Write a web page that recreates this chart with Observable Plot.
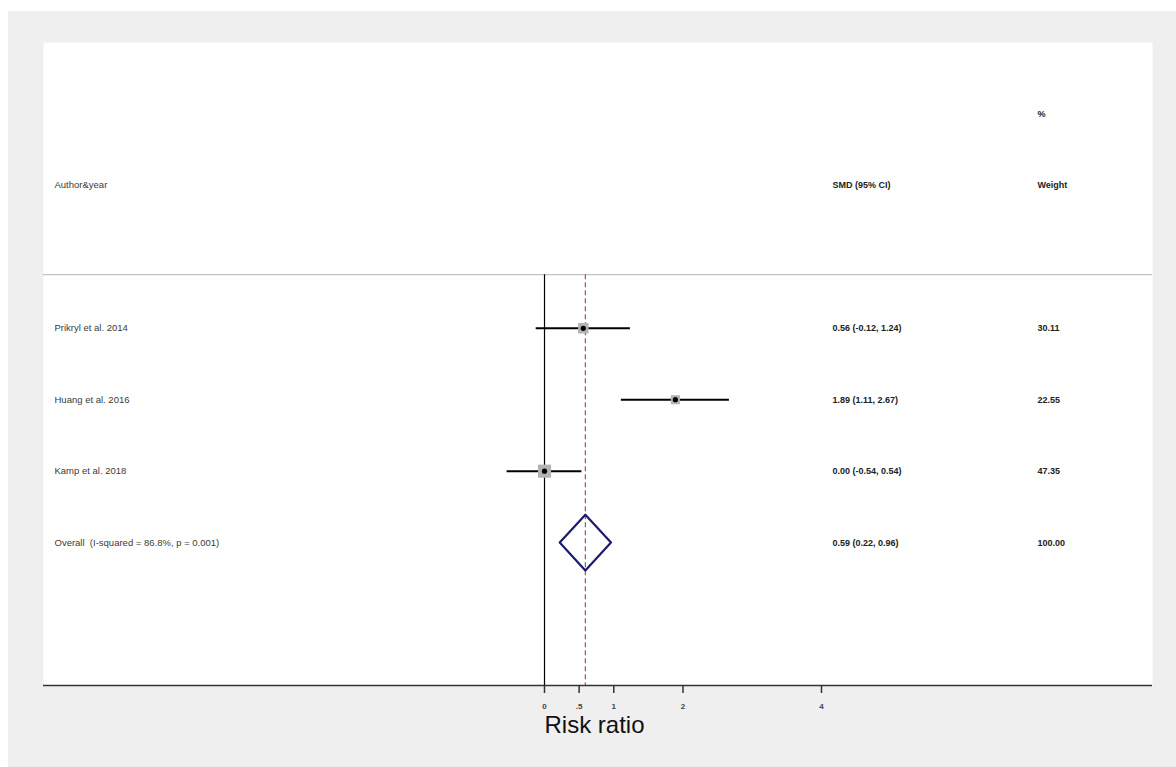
<!DOCTYPE html>
<html><head><meta charset="utf-8">
<script src="https://cdn.jsdelivr.net/npm/d3@7"></script>
<script src="https://cdn.jsdelivr.net/npm/@observablehq/plot@0.6"></script>
<style>
body{margin:0;background:#fff;}
#chart{position:absolute;left:8px;top:11px;}
</style></head><body><div id="chart"></div>
<script>
const studies = ["Prikryl et al. 2014", "Huang et al. 2016", "Kamp et al. 2018"];
const smd = [0.56, 1.89, 0.00];
const lower = [-0.12, 1.11, -0.54];
const upper = [1.24, 2.67, 0.54];
const weights = [30.11, 22.55, 47.35];
const overallLabel = "Overall  (I-squared = 86.8%, p = 0.001)";
const overallEst = 0.59, overallLo = 0.22, overallHi = 0.96, overallWeight = 100.00;
const tickValues = [0, 0.5, 1, 2, 4];
const tickLabels = ["0", ".5", "1", "2", "4"];
const headerLeft = "Author&year", headerCI = "SMD (95% CI)", headerW1 = "%", headerW2 = "Weight";
const axisTitle = "Risk ratio";

const f2 = v => v.toFixed(2);
const rows = studies.map((s, i) => ({row: i, label: s, est: smd[i], lo: lower[i], hi: upper[i], weight: weights[i],
  ci: `${f2(smd[i])} (${f2(lower[i])}, ${f2(upper[i])})`, w: f2(weights[i])}));
const ov = {row: studies.length, label: overallLabel, est: overallEst, lo: overallLo, hi: overallHi,
  ci: `${f2(overallEst)} (${f2(overallLo)}, ${f2(overallHi)})`, w: f2(overallWeight)};
const allRows = [...rows, ov];
const hh = 0.39;
const diamond = [
  {x: ov.lo, y: ov.row}, {x: ov.est, y: ov.row - hh}, {x: ov.hi, y: ov.row},
  {x: ov.est, y: ov.row + hh}, {x: ov.lo, y: ov.row}
];
const headerRow = -2, headerRowTop = -3, sepRow = -0.75, bottomRow = 5;

const font = "'Liberation Sans', Arial, sans-serif";
const chart = Plot.plot({
  width: 1168, height: 756,
  marginLeft: 35, marginRight: 24, marginTop: 31, marginBottom: 82,
  style: {background: "#efefef", fontFamily: font},
  x: {domain: [-7.235, 8.78], axis: null},
  y: {domain: [-4, 5], reverse: true, axis: null},
  r: {type: "sqrt", domain: [0, 47.35], range: [0, 7.4]},
  marks: [
    Plot.frame({fill: "white", stroke: "none"}),
    Plot.ruleY([sepRow], {stroke: "#b4b4b4", strokeWidth: 1}),
    Plot.ruleX([0], {y1: sepRow, y2: bottomRow, stroke: "black", strokeWidth: 1.2}),
    Plot.ruleX([ov.est], {y1: sepRow, y2: bottomRow, stroke: "#a3545f", strokeWidth: 1.2, strokeDasharray: "5,3"}),
    Plot.ruleY(rows, {y: "row", x1: "lo", x2: "hi", stroke: "black", strokeWidth: 2}),
    Plot.dot(rows, {x: "est", y: "row", r: "weight", symbol: "square", fill: "#b3b3b3"}),
    Plot.dot(rows, {x: "est", y: "row", r: 2.6, fill: "black"}),
    Plot.line(diamond, {x: "x", y: "y", stroke: "#1b1b6b", strokeWidth: 2.2, strokeLinejoin: "round"}),
    Plot.ruleY([bottomRow], {stroke: "#333", strokeWidth: 1.6}),
    Plot.axisX(tickValues, {tickFormat: d => tickLabels[tickValues.indexOf(d)], tickSize: 8, tickPadding: 10,
      fontSize: 8, fontWeight: "bold", stroke: "#333", strokeWidth: 1.5, fill: "#444", anchor: "bottom"}),
    Plot.text([axisTitle], {x: [0], y: [bottomRow], dy: 40, textAnchor: "start", fontSize: 24, fill: "#111"}),
    Plot.text(allRows, {y: "row", text: "label", frameAnchor: "left", dx: 11, textAnchor: "start", fontSize: 9.5, fill: "#3a3a3a"}),
    Plot.text(allRows, {y: "row", text: "ci", frameAnchor: "right", dx: -320, textAnchor: "start", fontSize: 9, fontWeight: "bold", fill: "#222"}),
    Plot.text(allRows, {y: "row", text: "w", frameAnchor: "right", dx: -115, textAnchor: "start", fontSize: 9, fontWeight: "bold", fill: "#222"}),
    Plot.text([headerLeft], {y: [headerRow], frameAnchor: "left", dx: 11, textAnchor: "start", fontSize: 9.5, fill: "#3a3a3a"}),
    Plot.text([headerCI], {y: [headerRow], frameAnchor: "right", dx: -320, textAnchor: "start", fontSize: 9, fontWeight: "bold", fill: "#222"}),
    Plot.text([headerW1], {y: [headerRowTop], frameAnchor: "right", dx: -115, textAnchor: "start", fontSize: 9, fontWeight: "bold", fill: "#222"}),
    Plot.text([headerW2], {y: [headerRow], frameAnchor: "right", dx: -115, textAnchor: "start", fontSize: 9, fontWeight: "bold", fill: "#222"})
  ]
});
document.getElementById("chart").append(chart);
</script></body></html>
